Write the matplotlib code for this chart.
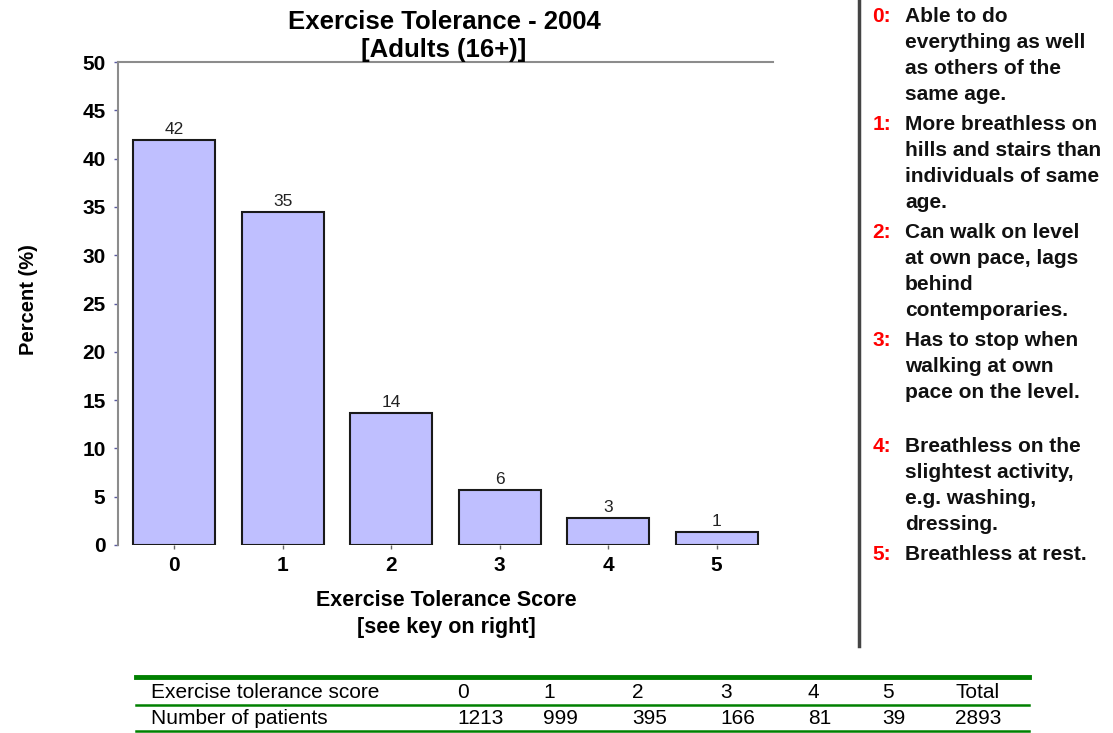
from matplotlib import pyplot as plt
from matplotlib.lines import Line2D

scores = [0, 1, 2, 3, 4, 5]
percent = [41.9, 34.5, 13.7, 5.7, 2.8, 1.35]
bar_labels = ["42", "35", "14", "6", "3", "1"]

key_nums = ["0:", "1:", "2:", "3:", "4:", "5:"]
key_text = [
	["Able to do", "everything as well", "as others of the", "same age."],
	["More breathless on", "hills and stairs than", "individuals of same", "age."],
	["Can walk on level", "at own pace, lags", "behind", "contemporaries."],
	["Has to stop when", "walking at own", "pace on the level."],
	["Breathless on the", "slightest activity,", "e.g. washing,", "dressing."],
	["Breathless at rest."],
]
key_top = [16, 125, 232, 340, 447, 555]

table_head = ["Exercise tolerance score", "0", "1", "2", "3", "4", "5", "Total"]
table_row = ["Number of patients", "1213", "999", "395", "166", "81", "39", "2893"]
table_cols = [151, 457, 543, 632, 720, 808, 882, 955]

W, H = 1113, 733
plt.rcParams['font.family'] = ['Liberation Sans', 'DejaVu Sans']

fig = plt.figure(figsize = (W / 100, H / 100), dpi = 100)
fig.patch.set_facecolor('white')


def fx(x):
	return x / W


def fy(y):
	return 1 - y / H


ax = fig.add_axes([fx(118), fy(545), fx(773) - fx(118), fy(62) - fy(545)])
ax.bar(scores, percent, width = 0.755, color = '#BFBFFF', edgecolor = '#1a1a1a', linewidth = 1.5, zorder = 3)
for s, p, lab in zip(scores, percent, bar_labels):
	ax.annotate(lab, (s, p), xytext = (0, 2), textcoords = 'offset points', ha = 'center', va = 'bottom', fontsize = 12.5, color = '#222222')

ax.set_xlim(-0.52, 5.52)
ax.set_ylim(0, 50)
ax.set_yticks(range(0, 51, 5))
ax.set_xticks(scores)
ax.spines['right'].set_visible(False)
ax.spines['bottom'].set_visible(False)
ax.spines['left'].set_color('#8c8c8c')
ax.spines['top'].set_color('#8c8c8c')
ax.spines['left'].set_linewidth(1.5)
ax.spines['top'].set_linewidth(1.5)
ax.tick_params(axis = 'y', length = 3, width = 1, color = '#5a5aa0', pad = 6)
ax.tick_params(axis = 'x', length = 3, width = 1, color = '#666666', pad = 5)
for t in ax.get_yticklabels() + ax.get_xticklabels():
	t.set_fontweight('bold')
	t.set_fontsize(15)

fig.text(fx(444), fy(22), "Exercise Tolerance - 2004", ha = 'center', va = 'center', fontsize = 18.5, fontweight = 'bold')
fig.text(fx(444), fy(50), "[Adults (16+)]", ha = 'center', va = 'center', fontsize = 18.5, fontweight = 'bold')
fig.text(fx(28), fy(300), "Percent (%)", ha = 'center', va = 'center', rotation = 90, fontsize = 14.5, fontweight = 'bold')
fig.text(fx(446), fy(601), "Exercise Tolerance Score", ha = 'center', va = 'center', fontsize = 15.5, fontweight = 'bold')
fig.text(fx(446), fy(627), "[see key on right]", ha = 'center', va = 'center', fontsize = 15.5, fontweight = 'bold')

# separator
fig.add_artist(Line2D([fx(859), fx(859)], [fy(0), fy(646)], transform = fig.transFigure, color = '#444444', linewidth = 2.5))

# key on the right
for num, lines, top in zip(key_nums, key_text, key_top):
	fig.text(fx(891), fy(top), num, ha = 'right', va = 'center', fontsize = 15, fontweight = 'bold', color = '#ff0000')
	for i, line in enumerate(lines):
		fig.text(fx(905), fy(top + i * 26), line, ha = 'left', va = 'center', fontsize = 15, fontweight = 'bold', color = '#111111')

# table
green = '#008000'
fig.add_artist(Line2D([fx(136), fx(1029)], [fy(677), fy(677)], transform = fig.transFigure, color = green, linewidth = 3.5))
fig.add_artist(Line2D([fx(136), fx(1029)], [fy(705), fy(705)], transform = fig.transFigure, color = green, linewidth = 1.8))
fig.add_artist(Line2D([fx(136), fx(1029)], [fy(731), fy(731)], transform = fig.transFigure, color = green, linewidth = 1.8))
for x, a, b in zip(table_cols, table_head, table_row):
	fig.text(fx(x), fy(692), a, ha = 'left', va = 'center', fontsize = 15)
	fig.text(fx(x), fy(719), b, ha = 'left', va = 'center', fontsize = 15)

fig.savefig('out.png', dpi = 100)
